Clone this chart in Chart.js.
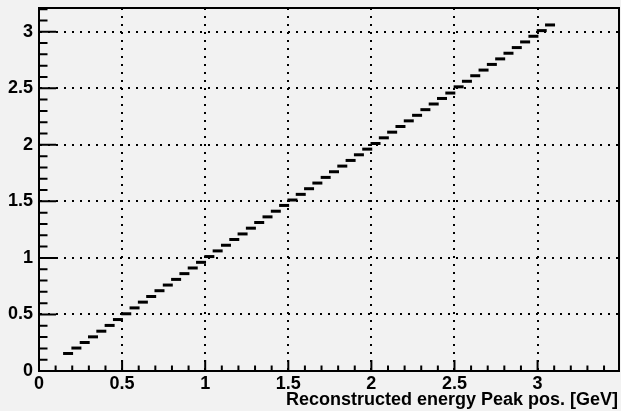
<!DOCTYPE html>
<html>
<head>
<meta charset="utf-8">
<script src="https://cdn.jsdelivr.net/npm/chart.js@4.4.0/dist/chart.umd.min.js"></script>
<style>
  html, body { margin: 0; padding: 0; overflow: hidden; background: #f2f2f2; }
  #wrap { position: relative; width: 621px; height: 411px; }
  #chart { display: block; }
</style>
</head>
<body>
<div id="wrap"><canvas id="chart"></canvas></div>
<script>
// bin centres of the histogram (GeV)
const binCenters = [
  0.175, 0.225, 0.275, 0.325, 0.375, 0.425, 0.475, 0.525, 0.575, 0.625,
  0.675, 0.725, 0.775, 0.825, 0.875, 0.925, 0.975, 1.025, 1.075, 1.125,
  1.175, 1.225, 1.275, 1.325, 1.375, 1.425, 1.475, 1.525, 1.575, 1.625,
  1.675, 1.725, 1.775, 1.825, 1.875, 1.925, 1.975, 2.025, 2.075, 2.125,
  2.175, 2.225, 2.275, 2.325, 2.375, 2.425, 2.475, 2.525, 2.575, 2.625,
  2.675, 2.725, 2.775, 2.825, 2.875, 2.925, 2.975, 3.025, 3.075
];
// reconstructed peak position per bin
const peakPos = [
  0.155, 0.203, 0.252, 0.302, 0.352, 0.403, 0.455, 0.506, 0.558, 0.609,
  0.659, 0.710, 0.760, 0.810, 0.861, 0.911, 0.961, 1.012, 1.062, 1.112,
  1.163, 1.212, 1.263, 1.313, 1.363, 1.413, 1.464, 1.512, 1.562, 1.612,
  1.662, 1.712, 1.762, 1.812, 1.862, 1.912, 1.962, 2.012, 2.062, 2.112,
  2.162, 2.212, 2.261, 2.311, 2.361, 2.410, 2.458, 2.513, 2.562, 2.611,
  2.661, 2.711, 2.760, 2.810, 2.860, 2.910, 2.960, 3.010, 3.060
];
const xTicks = [0, 0.5, 1, 1.5, 2, 2.5, 3];
const yTicks = [0, 0.5, 1, 1.5, 2, 2.5, 3];
const xTitle = 'Reconstructed energy Peak pos. [GeV]';

const font = { family: 'Liberation Sans', weight: 'bold', size: 18 };

// ROOT style inner ticks (major + minor), frame and axis title
const rootTicks = {
  id: 'rootTicks',
  afterDraw(chart) {
    const { ctx, chartArea: a, scales: { x, y } } = chart;
    ctx.save();
    ctx.strokeStyle = '#000';
    ctx.lineWidth = 2;
    ctx.beginPath();
    for (let i = 0; i / 10 <= x.max; i++) {
      const px = x.getPixelForValue(i / 10);
      const len = i % 5 === 0 ? 11 : 5.5;
      ctx.moveTo(px, a.bottom);
      ctx.lineTo(px, a.bottom - len);
    }
    for (let i = 0; i / 10 <= y.max; i++) {
      const py = y.getPixelForValue(i / 10);
      const len = i % 5 === 0 ? 17 : 8.5;
      ctx.moveTo(a.left, py);
      ctx.lineTo(a.left + len, py);
    }
    ctx.stroke();
    ctx.strokeRect(a.left, a.top, a.right - a.left, a.bottom - a.top);

    ctx.fillStyle = '#000';
    ctx.font = 'bold 18px "Liberation Sans"';
    ctx.textAlign = 'right';
    ctx.textBaseline = 'alphabetic';
    ctx.fillText(xTitle, a.right - 1, 405);
    ctx.restore();
  }
};

const ctx = document.getElementById('chart');

const chart = new Chart(ctx, {
  type: 'scatter',
  data: {
    datasets: [{
      data: binCenters.map((c, i) => ({ x: c, y: peakPos[i] })),
      pointStyle: 'line',
      pointRadius: 5,
      pointHoverRadius: 5,
      borderWidth: 3,
      borderColor: '#000',
      backgroundColor: '#000',
      showLine: false
    }]
  },
  options: {
    responsive: true,
    maintainAspectRatio: false,
    animation: false,
    layout: { autoPadding: false, padding: { top: 8, right: 2, left: 0, bottom: 0 } },
    plugins: { legend: { display: false }, tooltip: { enabled: false } },
    scales: {
      x: {
        type: 'linear',
        min: 0,
        max: 3.49,
        afterBuildTicks: (s) => { s.ticks = xTicks.map(v => ({ value: v })); },
        afterFit: (s) => { s.height = 40; s.paddingLeft = 0; s.paddingRight = 0; },
        ticks: {
          color: '#000', font: font, padding: 2, autoSkip: false, maxRotation: 0,
          includeBounds: false, callback: (v) => String(v)
        },
        grid: {
          drawTicks: false,
          lineWidth: 2,
          color: (c) => c.tick && c.tick.value === 0 ? 'rgba(0,0,0,0)' : '#000'
        },
        border: { display: true, color: '#000', width: 2, dash: [2, 6] }
      },
      y: {
        type: 'linear',
        min: 0,
        max: 3.21,
        afterBuildTicks: (s) => { s.ticks = yTicks.map(v => ({ value: v })); },
        afterFit: (s) => { s.width = 39; s.paddingTop = 0; s.paddingBottom = 0; },
        ticks: {
          color: '#000', font: font, padding: 6, includeBounds: false,
          callback: (v) => String(v)
        },
        grid: {
          drawTicks: false,
          lineWidth: 2,
          color: (c) => c.tick && c.tick.value === 0 ? 'rgba(0,0,0,0)' : '#000'
        },
        border: { display: true, color: '#000', width: 2, dash: [2, 6] }
      }
    }
  },
  plugins: [rootTicks]
});
</script>
</body>
</html>
